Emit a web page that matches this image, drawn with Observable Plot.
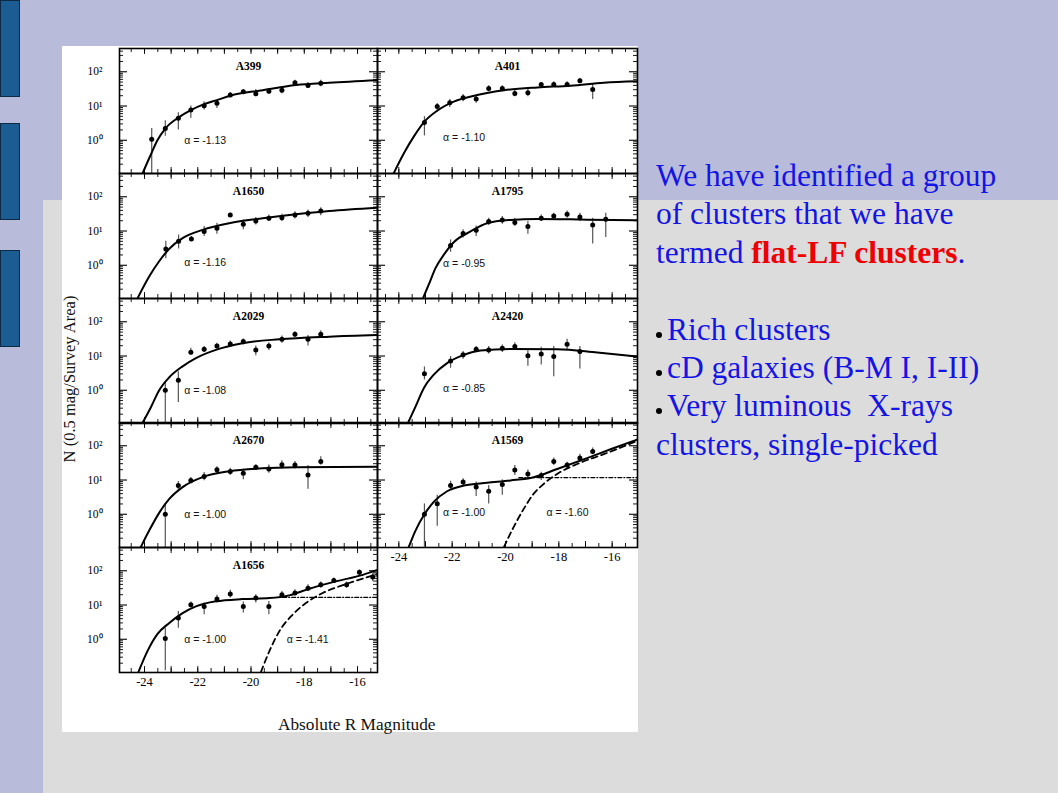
<!DOCTYPE html>
<html><head><meta charset="utf-8">
<script src="https://cdn.jsdelivr.net/npm/d3@7"></script>
<script src="https://cdn.jsdelivr.net/npm/@observablehq/plot@0.6"></script>
<style>
html,body{margin:0;padding:0;}
body{width:1058px;height:793px;overflow:hidden;position:relative;background:#b8bcda;}
.abs{position:absolute;}
#gray{left:43px;top:200px;width:1015px;height:593px;background:#dcdcdc;}
.tab{left:0;width:18px;height:95px;background:#1b5d93;border:1px solid #0c2a45;}
#img{left:62px;top:46px;width:576px;height:686px;background:#fff;}
#txt{left:656px;top:157px;font-family:"Liberation Serif","Times New Roman",serif;font-size:31.5px;line-height:38.4px;color:#1414e6;white-space:pre;}
#txt b{color:#ee0000;}
.bul{display:inline-block;width:6px;height:6px;border-radius:50%;background:#000;margin-right:5px;vertical-align:2px;}
#ylab{left:70px;top:379px;font-family:"Liberation Serif",serif;font-size:16.5px;transform:translate(-50%,-50%) rotate(-90deg);white-space:nowrap;color:#111;}
#xlab{left:278px;top:715px;font-family:"Liberation Serif",serif;font-size:17.3px;white-space:nowrap;color:#111;}
</style></head><body>
<div class="abs" id="gray"></div>
<div class="abs tab" style="top:0"></div>
<div class="abs tab" style="top:123px"></div>
<div class="abs tab" style="top:250px"></div>
<div class="abs" id="img"></div>
<div class="abs" id="txt">We have identified a group
of clusters that we have
termed <b>flat-LF clusters</b>.

<span class="bul"></span>Rich clusters
<span class="bul"></span>cD galaxies (B-M I, I-II)
<span class="bul"></span>Very luminous  X-rays
clusters, single-picked</div>
<div class="abs" id="ylab">N (0.5 mag/Survey Area)</div>
<div class="abs" id="xlab">Absolute R Magnitude</div>
<script>
// ---- tick values / labels ----
const xMinorTicks = [-24.5,-24,-23.5,-23,-22.5,-22,-21.5,-21,-20.5,-20,-19.5,-19,-18.5,-18,-17.5,-17,-16.5,-16,-15.5];
const xIntTicks = [-24,-23,-22,-21,-20,-19,-18,-17,-16];
const xLabelTicks = [-24,-22,-20,-18,-16];
const xLabelText = ["-24","-22","-20","-18","-16"];
const yMinorTicks = [0.2,0.3,0.4,0.5,0.6,0.7,0.8,0.9,2,3,4,5,6,7,8,9,20,30,40,50,60,70,80,90,200,300,400];
const yDecadeTicks = [1,10,100];
const yLabelText = ["10\u2070","10\u00b9","10\u00b2"];

// ---- A399 ----
const a399Mag = [-23.73,-23.22,-22.73,-22.26,-21.76,-21.28,-20.78,-20.29,-19.82,-19.33,-18.84,-18.35,-17.86,-17.38];
const a399N   = [1.07,2.2,4.4,7.6,10.2,12,21,26,23,27,29,48,40,46];
const a399Lo  = [0.1,1.3,2.0,4.4,7.6,8.5,17.5,22,18.7,22,23,41,33,36.5];
const a399Hi  = [2.2,3.7,6.4,10,13.3,14.3,25,30.5,30.5,32.5,36.5,57,49,57];
const a399FitMag = [-24.08,-23.80,-23.51,-23.22,-22.73,-22.26,-21.76,-21.28,-20.78,-19.56,-18.31,-17.06,-15.24];
const a399FitN   = [0.105,0.33,1.02,2.2,4.6,7.6,11.4,14.9,20,29,41,48,57];
// ---- A401 ----
const a401Mag = [-23.04,-22.56,-22.09,-21.59,-21.10,-20.63,-20.12,-19.65,-19.16,-18.66,-18.19,-17.69,-17.21,-16.73];
const a401N   = [3.3,9.6,12.5,17.5,16,32.5,32.5,23.3,24.5,42.7,42.7,42.7,55,30.6];
const a401Lo  = [1.34,6.8,9.1,13.3,12,26,26,18.7,18.7,35,35,35,46,15.6];
const a401Hi  = [4.9,11.9,15.6,21.8,20,39,39,29.2,30.6,49,51,51,64,42.7];
const a401FitMag = [-24.19,-23.81,-23.44,-23.04,-22.56,-21.94,-21.06,-20.06,-18.81,-17.56,-16.31,-15.06];
const a401FitN   = [0.11,0.42,1.28,3.5,7.3,13.4,21,29,35,39,48,53];
// ---- A1650 ----
const a1650Mag = [-23.20,-22.72,-22.24,-21.76,-21.28,-20.78,-20.29,-19.82,-19.33,-18.84,-18.35,-17.86,-17.38];
const a1650N   = [3.0,5.0,5.8,9.7,12.1,29.4,15.8,19.7,23.5,24.6,29.4,33,38.5];
const a1650Lo  = [1.56,3.0,5.0,6.9,8.1,26,10.8,15,18.9,18.9,22.6,25,28];
const a1650Hi  = [5,7.7,6.9,13.5,16.9,33,21,25,29.4,30.8,36.6,41,47.8];
const a1650FitMag = [-24.26,-23.82,-23.45,-23.07,-22.57,-21.82,-20.82,-19.56,-18.31,-17.06,-15.24];
const a1650FitN   = [0.11,0.48,1.31,3.04,6.2,10.8,16.9,23.5,30.8,38.5,48];
// ---- A1795 ----
const a1795Mag = [-22.06,-21.59,-21.10,-20.63,-20.12,-19.65,-19.16,-18.66,-18.19,-17.69,-17.21,-16.73,-16.24];
const a1795N   = [3.8,8.5,10.6,18.9,21,17.7,13.5,23.6,27.6,30.8,25.8,15.1,22];
const a1795Lo  = [2.4,6.2,6.9,14.4,15.8,13.5,8.1,18.9,21,23.6,18.9,4.2,6.5];
const a1795Hi  = [5.5,10.8,14,23.6,26.5,23.6,18.9,29.4,32.9,38.5,32.9,23.6,32.9];
const a1795FitMag = [-23.09,-22.88,-22.62,-22.31,-21.94,-21.31,-20.69,-19.81,-18.81,-16.94,-15.06];
const a1795FitN   = [0.11,0.27,0.84,2.04,4.7,9.7,16.9,21,22.5,21.5,20.6];
// ---- A2029 ----
const a2029Mag = [-23.22,-22.73,-22.26,-21.76,-21.28,-20.78,-20.29,-19.82,-19.33,-18.84,-18.35,-17.86,-17.38];
const a2029N   = [1.0,1.95,12.9,15.8,19.7,22.5,26.4,15.1,19.7,30.8,43,30.8,43];
const a2029Lo  = [0.1,0.44,10.6,12.6,15.8,18,21,10.1,14.4,23.6,35,19.7,34];
const a2029Hi  = [1.7,3.5,16.9,18.9,23.6,27.6,31.5,19.7,24.6,38.5,51,40,55];
const a2029FitMag = [-24.08,-23.76,-23.45,-23.07,-22.57,-22.07,-21.32,-20.32,-18.94,-17.06,-15.24];
const a2029FitN   = [0.11,0.32,1.0,2.4,5.0,8.7,15.1,23.6,30.8,36.8,41];
// ---- A2420 ----
const a2420Mag = [-23.04,-22.06,-21.59,-21.10,-20.63,-20.12,-19.65,-19.16,-18.66,-18.19,-17.69,-17.21];
const a2420N   = [3.04,7.2,10.8,15.8,15.1,16.9,18.9,10.1,11.5,9.7,22,13.5];
const a2420Lo  = [2.0,4.4,8.1,12.6,11.5,12.6,14.4,5,5.5,2.5,15.1,4.2];
const a2420Hi  = [4.8,9.7,13.5,18.9,18.9,21,24.6,15.8,18,18.9,30.8,18.9];
const a2420FitMag = [-23.66,-23.37,-23.06,-22.69,-22.19,-21.56,-20.94,-19.81,-18.06,-16.56,-15.06];
const a2420FitN   = [0.11,0.34,1.17,2.85,6.2,10.8,14.4,16.1,15.8,12.6,9.7];
// ---- A2670 ----
const a2670Mag = [-23.22,-22.73,-22.26,-21.76,-21.28,-20.78,-20.29,-19.82,-19.33,-18.84,-18.35,-17.86,-17.38];
const a2670N   = [1.0,6.9,9.7,12.6,20.1,17.7,15.8,23.6,21,28.1,27.6,14.1,34.5];
const a2670Lo  = [0.1,5.1,7.7,9.5,15,13.5,10.1,18.9,15.8,21,21,5.4,27];
const a2670Hi  = [2.0,9,11.9,16.5,24.6,22,20.6,28,27.6,36.6,34.5,26.4,47.8];
const a2670FitMag = [-24.14,-23.82,-23.45,-23.07,-22.57,-21.82,-20.82,-19.56,-18.31,-15.24];
const a2670FitN   = [0.11,0.34,1.1,2.8,6.2,12.1,18,22,23.6,24.6];
// ---- A1569 ----
const a1569Mag = [-23.04,-22.56,-22.06,-21.59,-21.10,-20.63,-20.12,-19.65,-19.16,-18.66,-18.19,-17.69,-17.21,-16.73];
const a1569N   = [1.0,2.04,6.9,8.7,6.2,4.7,7.4,19.7,15.1,13.5,35,27.6,44,68];
const a1569Lo  = [0.11,0.45,5.0,6.5,3.3,2.0,3.6,13.5,10.1,9.7,26.4,21,33,55];
const a1569Hi  = [2.0,3.6,9.2,10.8,8.7,6.9,10.1,26.4,19.7,16.9,44,33,57,86];
const a1569FitMag = [-23.63,-23.37,-23.04,-22.69,-22.19,-21.56,-20.69,-19.81,-18.94,-18.06,-16.94,-16.06,-15.06];
const a1569FitN   = [0.11,0.34,1.0,2.3,4.7,6.9,8.3,9.7,12.1,21,43.6,79,152];
const a1569DashMag = [-20.06,-19.69,-19.31,-18.94,-18.56,-18.06,-17.31,-16.31,-15.06];
const a1569DashN   = [0.11,0.43,1.46,4.0,7.8,15.1,29.4,57,139];
const a1569FlatMag = [-19.5,-15.06];
const a1569FlatN   = [11.8,11.8];
// ---- A1656 ----
const a1656Mag = [-23.22,-22.73,-22.26,-21.76,-21.28,-20.78,-20.29,-19.82,-19.33,-18.84,-18.35,-17.86,-17.38,-16.89,-16.41,-15.93,-15.43];
const a1656N   = [1.05,4.2,10.2,9.1,14.9,20.9,9.1,15.9,9.1,20,22.4,31,39,52,39,91,66];
const a1656Lo  = [0.12,2.1,8.2,5.2,11.4,16,5.8,11.4,5.2,16,18.7,25,31,43.6,31,73,49];
const a1656Hi  = [2.1,6.5,12.2,11.4,19.2,26.8,12.2,20,12.7,25,28,39,46.6,61,46.6,106,85];
const a1656FitMag = [-24.23,-23.89,-23.51,-23.07,-22.57,-22.07,-21.32,-20.32,-19.31,-18.56,-17.81,-16.81,-15.80,-15.24];
const a1656FitN   = [0.11,0.45,1.43,3.0,5.8,9.1,12.8,14.9,15.9,19.1,30,49,76,107];
const a1656DashMag = [-19.63,-19.31,-18.94,-18.44,-17.94,-17.31,-16.43,-15.24];
const a1656DashN   = [0.11,0.45,1.7,5.2,11.4,22.4,41,80];
const a1656FlatMag = [-18.81,-15.24];
const a1656FlatN   = [16.7,16.7];

const yDomain = [0.107, 478];
const colLeft = [119, 377];
const colWidth = [258, 260];
const colDomain = [[-24.94, -15.25], [-24.8, -15.05]];
const rowTop = [47.7, 172.6, 297.5, 422.4, 547.3];

function xy(ms, ns) { return ms.map((m, i) => ({m, n: ns[i]})); }

function panel(c) {
  const W = colWidth[c.col], H = 125;
  const ml = c.yLabels ? 40 : 0, mb = c.xLabels ? 24 : 0;
  const pts = c.mag.map((m, i) => ({m, n: c.n[i], lo: c.lo[i], hi: c.hi[i]}));
  const alphas = c.alphaMag.map((m, i) => ({m, n: c.alphaN[i], t: c.alphaText[i]}));
  const marks = [
    Plot.tickX(xMinorTicks, {x: d => d, insetTop: H - 4, strokeWidth: 0.9}),
    Plot.tickX(xMinorTicks, {x: d => d, insetBottom: H - 4, strokeWidth: 0.9}),
    Plot.tickX(xIntTicks, {x: d => d, insetTop: H - 6, strokeWidth: 0.9}),
    Plot.tickX(xIntTicks, {x: d => d, insetBottom: H - 6, strokeWidth: 0.9}),
    Plot.tickY(yMinorTicks, {y: d => d, insetRight: W - 4, strokeWidth: 0.9}),
    Plot.tickY(yMinorTicks, {y: d => d, insetLeft: W - 4, strokeWidth: 0.9}),
    Plot.tickY(yDecadeTicks, {y: d => d, insetRight: W - 8, strokeWidth: 1.1}),
    Plot.tickY(yDecadeTicks, {y: d => d, insetLeft: W - 8, strokeWidth: 1.1}),
    Plot.ruleX(pts, {x: "m", y1: "lo", y2: "hi", stroke: "#555", strokeWidth: 1.2, clip: true}),
    Plot.line(xy(c.fitMag, c.fitN), {x: "m", y: "n", curve: "monotone-x", stroke: "#000", strokeWidth: 2, clip: true}),
    Plot.dot(pts, {x: "m", y: "n", r: 2.5, fill: "#000", stroke: null}),
    Plot.text([c.name], {text: d => d, frameAnchor: "top", dy: 13, fontWeight: "bold", fontSize: 11.5, fontFamily: "Liberation Serif"}),
    Plot.text(alphas, {x: "m", y: "n", text: "t", textAnchor: "start", fontSize: 10.5, fontFamily: "Liberation Sans", fill: "#111"}),
    Plot.frame({stroke: "#000", strokeWidth: 1.6})
  ];
  if (c.dashMag) {
    marks.push(Plot.line(xy(c.dashMag, c.dashN), {x: "m", y: "n", curve: "monotone-x", stroke: "#000", strokeWidth: 1.8, strokeDasharray: "6,4", clip: true}));
    marks.push(Plot.line(xy(c.flatMag, c.flatN), {x: "m", y: "n", stroke: "#000", strokeWidth: 1.2, strokeDasharray: "4,2,1,2", clip: true}));
  }
  if (c.xLabels) marks.push(Plot.axisX({ticks: xLabelTicks, anchor: "bottom", tickSize: 0, tickPadding: 5, tickFormat: d => xLabelText[xLabelTicks.indexOf(d)], fontSize: 12.5, label: null}));
  if (c.yLabels) marks.push(Plot.axisY({ticks: yDecadeTicks, anchor: "left", tickSize: 0, tickPadding: 17, tickFormat: d => yLabelText[yDecadeTicks.indexOf(d)], fontSize: 11.5, label: null}));
  const xOpt = {type: "linear", domain: colDomain[c.col], label: null};
  const yOpt = {type: "log", domain: yDomain, label: null};
  if (!c.xLabels) xOpt.axis = null;
  if (!c.yLabels) yOpt.axis = null;
  const svg = Plot.plot({
    width: W + ml, height: H + mb,
    marginLeft: ml, marginRight: 0, marginTop: 0, marginBottom: mb,
    x: xOpt, y: yOpt,
    style: {background: "transparent", overflow: "visible", fontFamily: "Liberation Serif", color: "#000"},
    marks
  });
  svg.style.position = "absolute";
  svg.style.left = (colLeft[c.col] - ml) + "px";
  svg.style.top = rowTop[c.row] + "px";
  document.body.appendChild(svg);
}

panel({name: "A399", col: 0, row: 0, yLabels: true, mag: a399Mag, n: a399N, lo: a399Lo, hi: a399Hi, fitMag: a399FitMag, fitN: a399FitN, alphaMag: [-22.51], alphaN: [1.0], alphaText: ["\u03b1 = -1.13"]});
panel({name: "A401", col: 1, row: 0, mag: a401Mag, n: a401N, lo: a401Lo, hi: a401Hi, fitMag: a401FitMag, fitN: a401FitN, alphaMag: [-22.34], alphaN: [1.2], alphaText: ["\u03b1 = -1.10"]});
panel({name: "A1650", col: 0, row: 1, yLabels: true, mag: a1650Mag, n: a1650N, lo: a1650Lo, hi: a1650Hi, fitMag: a1650FitMag, fitN: a1650FitN, alphaMag: [-22.51], alphaN: [1.17], alphaText: ["\u03b1 = -1.16"]});
panel({name: "A1795", col: 1, row: 1, mag: a1795Mag, n: a1795N, lo: a1795Lo, hi: a1795Hi, fitMag: a1795FitMag, fitN: a1795FitN, alphaMag: [-22.34], alphaN: [1.1], alphaText: ["\u03b1 = -0.95"]});
panel({name: "A2029", col: 0, row: 2, yLabels: true, mag: a2029Mag, n: a2029N, lo: a2029Lo, hi: a2029Hi, fitMag: a2029FitMag, fitN: a2029FitN, alphaMag: [-22.51], alphaN: [1.0], alphaText: ["\u03b1 = -1.08"]});
panel({name: "A2420", col: 1, row: 2, mag: a2420Mag, n: a2420N, lo: a2420Lo, hi: a2420Hi, fitMag: a2420FitMag, fitN: a2420FitN, alphaMag: [-22.34], alphaN: [1.1], alphaText: ["\u03b1 = -0.85"]});
panel({name: "A2670", col: 0, row: 3, yLabels: true, mag: a2670Mag, n: a2670N, lo: a2670Lo, hi: a2670Hi, fitMag: a2670FitMag, fitN: a2670FitN, alphaMag: [-22.51], alphaN: [1.0], alphaText: ["\u03b1 = -1.00"]});
panel({name: "A1569", col: 1, row: 3, xLabels: true, mag: a1569Mag, n: a1569N, lo: a1569Lo, hi: a1569Hi, fitMag: a1569FitMag, fitN: a1569FitN, dashMag: a1569DashMag, dashN: a1569DashN, flatMag: a1569FlatMag, flatN: a1569FlatN, alphaMag: [-22.34, -18.46], alphaN: [1.1, 1.1], alphaText: ["\u03b1 = -1.00", "\u03b1 = -1.60"]});
panel({name: "A1656", col: 0, row: 4, yLabels: true, xLabels: true, mag: a1656Mag, n: a1656N, lo: a1656Lo, hi: a1656Hi, fitMag: a1656FitMag, fitN: a1656FitN, dashMag: a1656DashMag, dashN: a1656DashN, flatMag: a1656FlatMag, flatN: a1656FlatN, alphaMag: [-22.51, -18.66], alphaN: [1.0, 1.0], alphaText: ["\u03b1 = -1.00", "\u03b1 = -1.41"]});
</script>
</body></html>
